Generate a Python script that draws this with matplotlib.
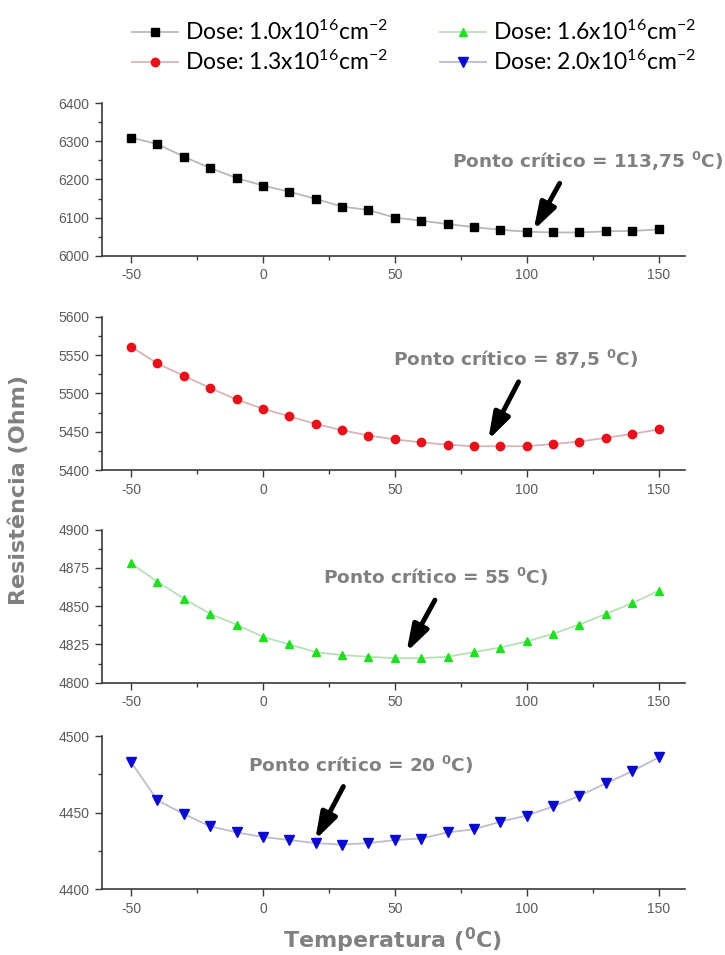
import matplotlib
matplotlib.use('Agg')
import matplotlib.pyplot as plt
from matplotlib.ticker import MultipleLocator, FormatStrFormatter

plt.rcParams['mathtext.default'] = 'regular'
plt.rcParams['axes.unicode_minus'] = False

temperature = [-50, -40, -30, -20, -10, 0, 10, 20, 30, 40, 50,
               60, 70, 80, 90, 100, 110, 120, 130, 140, 150]

res_dose_10 = [6310, 6293, 6260, 6230, 6204, 6184, 6168, 6149, 6129, 6120, 6100,
               6092, 6083, 6075, 6068, 6063, 6061, 6061, 6064, 6065, 6069]
res_dose_13 = [5561, 5539, 5523, 5507, 5492, 5480, 5470, 5460, 5452, 5445, 5440,
               5436, 5433, 5431, 5431, 5431, 5434, 5437, 5442, 5447, 5453]
res_dose_16 = [4878, 4866, 4855, 4845, 4838, 4830, 4825, 4820, 4818, 4817, 4816,
               4816, 4817, 4820, 4823, 4827, 4832, 4838, 4845, 4852, 4860]
res_dose_20 = [4483, 4458, 4449, 4441, 4437, 4434, 4432, 4430, 4429, 4430, 4432,
               4433, 4437, 4439, 4444, 4448, 4454, 4461, 4469, 4477, 4486]

series_labels = ['Dose: 1.0x10$^{16}$cm$^{-2}$', 'Dose: 1.3x10$^{16}$cm$^{-2}$',
                 'Dose: 1.6x10$^{16}$cm$^{-2}$', 'Dose: 2.0x10$^{16}$cm$^{-2}$']
critical_labels = ['Ponto crítico = 113,75 $^{0}$C)', 'Ponto crítico = 87,5 $^{0}$C)',
                   'Ponto crítico = 55 $^{0}$C)', 'Ponto crítico = 20 $^{0}$C)']
y_limits = [(6000, 6400), (5400, 5600), (4800, 4900), (4400, 4500)]
y_major = [100, 50, 25, 50]

series = [res_dose_10, res_dose_13, res_dose_16, res_dose_20]
markers = ['s', 'o', '^', 'v']
marker_colors = ['#000000', '#e8101a', '#1fe01f', '#0a0ad0']
line_colors = ['#b8b8b8', '#d8b4b8', '#b8e0b8', '#bdbdcc']
marker_sizes = [6, 6, 6, 6.5]

# annotation layout (text anchor, arrow tail, arrow head) in data coords
text_pos = [(71.5, 6247), (49.3, 5544), (22.7, 4869), (-5.6, 4481)]
arrow_tail = [(112.5, 6190), (96.9, 5515), (65.2, 4854), (30.5, 4467)]
arrow_head = [(102.6, 6067), (85.4, 5439), (54.4, 4820), (19.8, 4432)]

fig = plt.figure(figsize=(7.25, 9.55), dpi=100)
left, width = 102 / 725, (685 - 102) / 725
tops = [103.3, 316.7, 529.7, 736]
bots = [255.7, 470, 682.7, 889]

handles = []
for i in range(4):
    ax = fig.add_axes([left, 1 - bots[i] / 955, width, (bots[i] - tops[i]) / 955])
    h, = ax.plot(temperature, series[i], color=line_colors[i], lw=1.3,
                 marker=markers[i], markersize=marker_sizes[i],
                 markerfacecolor=marker_colors[i], markeredgecolor=marker_colors[i],
                 clip_on=False, zorder=3, label=series_labels[i])
    handles.append(h)
    ax.set_xlim(-61, 160)
    ax.set_ylim(*y_limits[i])
    ax.xaxis.set_major_locator(MultipleLocator(50))
    ax.xaxis.set_minor_locator(MultipleLocator(25))
    ax.yaxis.set_major_locator(MultipleLocator(y_major[i]))
    ax.yaxis.set_minor_locator(MultipleLocator(y_major[i] / 2))
    ax.yaxis.set_major_formatter(FormatStrFormatter('%d'))
    for s in ['top', 'right']:
        ax.spines[s].set_visible(False)
    for s in ['left', 'bottom']:
        ax.spines[s].set_color('#3a3a3a')
        ax.spines[s].set_linewidth(1.2)
    ax.tick_params(which='major', direction='out', length=5, width=1, color='#3a3a3a',
                   labelcolor='#5a5a5a', labelsize=10, pad=4)
    ax.tick_params(which='minor', direction='out', length=3, width=1, color='#3a3a3a')
    for lab in ax.get_xticklabels() + ax.get_yticklabels():
        lab.set_family('Liberation Sans')
    ax.set_facecolor('none')
    ax.text(text_pos[i][0], text_pos[i][1], critical_labels[i], fontsize=13.3,
            fontweight='bold', color='#808080', ha='left', va='center', clip_on=False,
            family='DejaVu Sans')
    ax.annotate('', xy=arrow_head[i], xytext=arrow_tail[i], annotation_clip=False,
                arrowprops=dict(arrowstyle='-|>,head_length=1.0,head_width=0.32',
                                lw=3.5, color='black', mutation_scale=16,
                                shrinkA=0, shrinkB=0))

fig.text(393 / 725, 1 - 940 / 955, 'Temperatura ($^{0}$C)', fontsize=16,
         fontweight='bold', color='#808080', ha='center', va='center')
fig.text(19 / 725, 1 - 490 / 955, 'Resistência (Ohm)', fontsize=16,
         fontweight='bold', color='#808080', ha='center', va='center', rotation=90)

fig.legend(handles=handles, labels=series_labels, ncol=2, loc='center',
           bbox_to_anchor=(414 / 725, 1 - 47 / 955), frameon=False,
           prop={'family': 'Lato', 'size': 16.5}, handlelength=2.0, handletextpad=0.3,
           columnspacing=2.3, labelspacing=0.25, borderpad=0)

fig.savefig('out.png', dpi=100)
